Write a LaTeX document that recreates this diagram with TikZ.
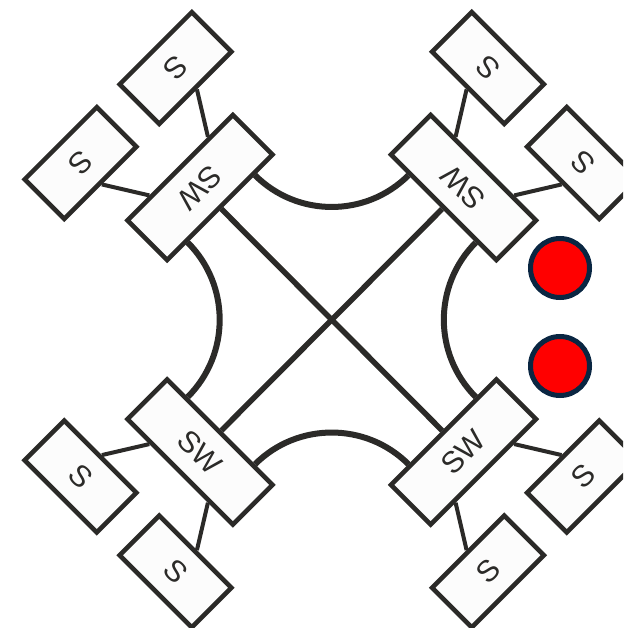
\documentclass[tikz,border=0pt]{standalone}
\usepackage{fontspec}
\setmainfont{Liberation Sans}
\usetikzlibrary{calc}
\definecolor{ink}{RGB}{43,42,40}
\definecolor{navy}{RGB}{10,38,66}
\definecolor{boxfill}{RGB}{252,252,252}
\pgfdeclarelayer{bg}
\pgfsetlayers{bg,main}
\newcommand\swgroup[4]{%
  \begin{scope}[shift={(#2,#3)}, rotate=#4, transform shape]
    \node[swbox] (#1-sw) at (0,0) {SW};
    \node[sbox] (#1-sa) at (-67.2,-101.8) {S};
    \node[sbox] (#1-sb) at (67.2,-101.8) {S};
  \end{scope}}
\begin{document}
\begin{tikzpicture}[x=1pt,y=1pt,
  swbox/.style={draw=ink, line width=4.5pt, fill=boxfill, minimum width=149pt,
    minimum height=56pt, inner sep=0pt, font=\fontsize{30}{36}\selectfont, text=ink},
  sbox/.style={swbox, minimum width=102pt},
  link/.style={draw=ink, line width=4pt},
  diag/.style={draw=ink, line width=5.5pt},
  arcline/.style={draw=ink, line width=6pt},
  dot/.style={circle, draw=navy, line width=5pt, fill=red, minimum size=59pt, inner sep=0pt}]
\path[use as bounding box, clip] (0,0) rectangle (623,-628);

\swgroup{tl}{200}{-187.5}{225}
\swgroup{tr}{463.5}{-187.5}{135}
\swgroup{bl}{200}{-452}{-45}
\swgroup{br}{463.5}{-452}{45}

\node[dot] (c1) at (560,-268) {};
\node[dot] (c2) at (560,-366) {};

\begin{pgfonlayer}{bg}
  \foreach \g in {tl,tr,bl,br} {
    \draw[link] (\g-sa.north) -- ($(\g-sw.south west)!0.23!(\g-sw.south east)$);
    \draw[link] (\g-sb.north) -- ($(\g-sw.south west)!0.77!(\g-sw.south east)$);
    \coordinate (\g-p) at ($(\g-sw.north west)!0.19!(\g-sw.north east)$);
    \coordinate (\g-q) at ($(\g-sw.north west)!0.81!(\g-sw.north east)$);
  }
  \draw[arcline] (tl-p) to[bend right=45] (tr-q);
  \draw[arcline] (tr-p) to[bend right=45] (br-q);
  \draw[arcline] (br-p) to[bend right=45] (bl-q);
  \draw[arcline] (bl-p) to[bend right=45] (tl-q);
  \draw[diag] (tl-sw) -- (br-sw);
  \draw[diag] (tr-sw) -- (bl-sw);
\end{pgfonlayer}
\end{tikzpicture}
\end{document}
